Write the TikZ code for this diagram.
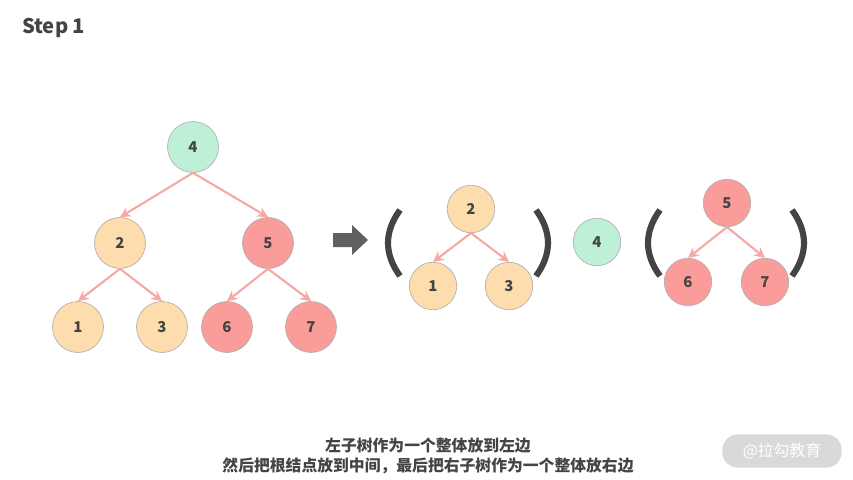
\documentclass[tikz,border=0pt]{standalone}
\usepackage{fontspec}
\setmainfont{Noto Sans CJK SC}
\usetikzlibrary{arrows.meta}
\definecolor{green4}{HTML}{BDF0D6}
\definecolor{orange4}{HTML}{FDDDAE}
\definecolor{red4}{HTML}{FA9C9A}
\definecolor{edgecol}{HTML}{F6A8A6}
\definecolor{textcol}{HTML}{444444}
\tikzset{>={Stealth[length=6pt,width=6pt]},
  leaf/.style={circle,draw=gray!60,minimum size=29pt,inner sep=0pt,text=textcol,font=\fontsize{8.5}{10}\selectfont\bfseries},
  small/.style={leaf,minimum size=27pt},
  link/.style={edgecol,line width=1.2pt,->},
  paren/.style={textcol,line width=3.5pt}}
\begin{document}
\begin{tikzpicture}[x=0.02cm,y=-0.02cm]
\useasboundingbox (0,0) rectangle (853,480);
\node[text=textcol,font=\fontsize{11.5}{13}\selectfont\bfseries,anchor=west] (title) at (16,28) {Step 1};
% whole tree
\node[leaf,fill=green4] (n4) at (193,147) {4};
\node[leaf,fill=orange4] (n2) at (120,243) {2};
\node[leaf,fill=red4] (n5) at (268,243) {5};
\node[leaf,fill=orange4] (n1) at (78,327) {1};
\node[leaf,fill=orange4] (n3) at (162,327) {3};
\node[leaf,fill=red4] (n6) at (227,327) {6};
\node[leaf,fill=red4] (n7) at (311,327) {7};
\draw[link] (n4.south) -- (n2.north);
\draw[link] (n4.south) -- (n5.north);
\draw[link] (n2.south) -- (n1.north);
\draw[link] (n2.south) -- (n3.north);
\draw[link] (n5.south) -- (n6.north);
\draw[link] (n5.south) -- (n7.north);
% arrow
\fill[gray!75!black] (333,233) -- (352,233) -- (352,225) -- (368,240) -- (352,255) -- (352,247) -- (333,247) -- cycle;
% split parts
\node[small,fill=orange4] (l2) at (471,209) {2};
\node[small,fill=orange4] (l1) at (433,286) {1};
\node[small,fill=orange4] (l3) at (509,286) {3};
\node[small,fill=green4] (m4) at (597,242) {4};
\node[small,fill=red4] (r5) at (727,203) {5};
\node[small,fill=red4] (r6) at (688,282) {6};
\node[small,fill=red4] (r7) at (765,282) {7};
\draw[link] (l2.south) -- (l1.north);
\draw[link] (l2.south) -- (l3.north);
\draw[link] (r5.south) -- (r6.north);
\draw[link] (r5.south) -- (r7.north);
\draw[paren] (400,210) .. controls (384,232) and (384,254) .. (400,276);
\draw[paren] (536,210) .. controls (552,232) and (552,254) .. (536,276);
\draw[paren] (660,210) .. controls (644,232) and (644,254) .. (660,276);
\draw[paren] (792,210) .. controls (808,232) and (808,254) .. (792,276);
% caption
\node[text=textcol,font=\fontsize{9}{11}\selectfont\bfseries,align=center] (cap) at (428,456) {左子树作为一个整体放到左边\\然后把根结点放到中间，最后把右子树作为一个整体放右边};
\node[fill=gray!30,rounded corners=9pt,minimum width=68pt,minimum height=19pt,text=white,font=\fontsize{9}{10}\selectfont] (mark) at (782,451) {@拉勾教育};
\end{tikzpicture}
\end{document}
